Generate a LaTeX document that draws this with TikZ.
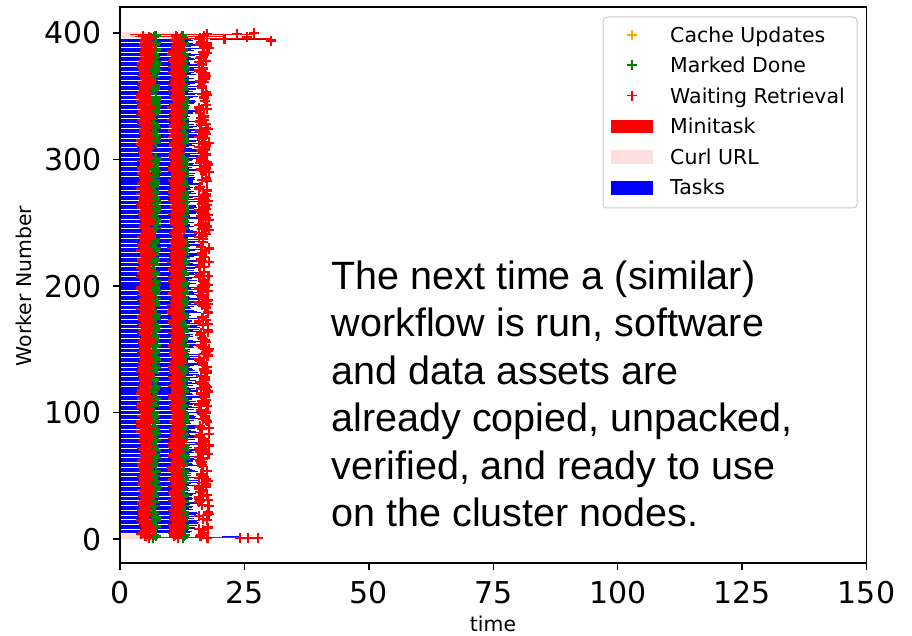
\documentclass[tikz,border=0pt]{standalone}
\usepackage{fontspec}
\setmainfont{DejaVu Sans}
\newfontfamily\annotfont{Liberation Sans}
\definecolor{mplred}{RGB}{255,0,0}
\definecolor{mplgreen}{RGB}{0,128,0}
\definecolor{mplorange}{RGB}{255,165,0}
\definecolor{mplblue}{RGB}{0,0,255}
\definecolor{curlpink}{RGB}{255,222,222}
\definecolor{legframe}{RGB}{204,204,204}
\begin{document}
\begin{tikzpicture}[x=1pt,y=-1pt,
  ticklab/.style={font=\fontsize{30}{36}\selectfont, inner sep=0pt},
  legtext/.style={font=\fontsize{20.5}{24}\selectfont, anchor=base west, inner sep=0pt},
  anntext/.style={font=\annotfont\fontsize{39.5}{47.5}\selectfont, anchor=base west, inner sep=0pt},
  pmark/.style={line width=2.3pt, line cap=butt},
  lmark/.style={line width=1.6pt},
  tickmark/.style={line width=1.4pt},
]
\useasboundingbox[fill=white] (0,0) rectangle (912,636);

% ---------------- data ----------------
\begin{scope}[shift={(120,539)}, x=4.973pt, y=1.265pt]
\pgfmathsetseed{42}
% tasks (blue)
\foreach \w in {5,...,395}{
  \pgfmathsetmacro\e{13.4+3.0*rnd}
  \fill[mplblue] (0,\w-0.4) rectangle (\e,\w+0.4);
}
% curl url bands
\fill[curlpink] (0,396) rectangle (12.7,401);
\fill[curlpink] (0,0) rectangle (8,4.2);
% special top rows
\draw[mplred, line width=1.2pt] (2,399) -- (27,399);
\draw[mplred, line width=1.2pt] (3,397) -- (21,397);
\draw[mplblue, line width=1pt] (18,394.5) -- (29.5,394.5);
\draw[mplred, line width=1pt] (12,395.8) -- (30.4,395.8);
% special bottom rows
\draw[mplred, line width=1.4pt] (4,1) -- (27.8,1);
\draw[mplblue, line width=1pt] (20.6,1.8) -- (24,1.8);
% minitask bars (red)
\foreach \w in {1,...,398}{
  \pgfmathsetmacro\aa{3.7+0.7*rnd}
  \pgfmathsetmacro\bb{6.0+0.7*rnd}
  \pgfmathsetmacro\cc{10.1+0.6*rnd}
  \pgfmathsetmacro\dd{12.0+0.7*rnd}
  \fill[mplred] (\aa,\w-0.5) rectangle (\bb,\w+0.5) (\cc,\w-0.5) rectangle (\dd,\w+0.5);
}
% marked done (green)
\foreach \w in {1,...,398}{
  \pgfmathsetmacro\ga{6.6+0.7*rnd}
  \pgfmathsetmacro\gb{12.5+0.5*rnd}
  \pgfmathsetmacro\pg{rnd}
  \ifdim\pg pt<0.5pt
  \draw[mplgreen, pmark] (\ga,\w) +(-5pt,0) -- +(5pt,0) +(0,-5pt) -- +(0,5pt)
                         (\gb,\w) +(-5pt,0) -- +(5pt,0) +(0,-5pt) -- +(0,5pt);
  \fi
}
% waiting retrieval (red +)
\foreach \w in {1,...,398}{
  \pgfmathsetmacro\ra{4.2+2.0*rnd}
  \pgfmathsetmacro\rb{10.5+1.9*rnd}
  \pgfmathsetmacro\rc{15.8+2.1*rnd}
  \pgfmathsetmacro\pc{rnd}
  \draw[mplred, pmark] (\ra,\w) +(-5pt,0) -- +(5pt,0) +(0,-5pt) -- +(0,5pt)
                       (\rb,\w) +(-5pt,0) -- +(5pt,0) +(0,-5pt) -- +(0,5pt);
  \ifdim\pc pt<0.65pt
    \draw[mplred, pmark] (\rc,\w) +(-5pt,0) -- +(5pt,0) +(0,-5pt) -- +(0,5pt);
  \fi
}
% outlier markers top
\foreach \px/\py in {17.5/399, 21/395.5, 23.5/399, 25.5/396.5, 27/400, 30.4/394}{
  \draw[mplred, pmark] (\px,\py) +(-5pt,0) -- +(5pt,0) +(0,-5pt) -- +(0,5pt);
}
% outlier markers bottom
\foreach \px in {24.1, 25.7, 27.8}{
  \draw[mplred, pmark] (\px,1) +(-5pt,0) -- +(5pt,0) +(0,-5pt) -- +(0,5pt);
}
\end{scope}

% ---------------- axes ----------------
\draw[line width=1.8pt] (120,7.3) rectangle (866.5,563.3);
\foreach \k/\lab in {0/0,1/25,2/50,3/75,4/100,5/125,6/150}{
  \coordinate (xt\k) at ({120+124.42*\k},563.3);
  \draw[tickmark] (xt\k) -- ++(0,7);
  \node[ticklab, anchor=base] (xl\k) at ({120+124.42*\k},603) {\lab};
}
\foreach \k/\lab in {0/0,1/100,2/200,3/300,4/400}{
  \coordinate (yt\k) at (120,{539-126.5*\k});
  \draw[tickmark] (yt\k) -- ++(-7,0);
  \node[ticklab, anchor=base east] (yl\k) at (102,{539-126.5*\k+11}) {\lab};
}
\node[font=\fontsize{20.4}{24}\selectfont, rotate=90, inner sep=0pt] (ylab) at (24,286) {Worker Number};
\node[font=\fontsize{20.4}{24}\selectfont, anchor=base, inner sep=0pt] (xlab) at (493,631.5) {time};

% ---------------- legend ----------------
\draw[legframe, fill=white, line width=1pt, rounded corners=4pt] (603,17) rectangle (857,208);
\draw[mplorange, lmark] (627,35) -- (637,35) (632,30) -- (632,40);
\draw[mplgreen, lmark] (627,65.3) -- (637,65.3) (632,60.3) -- (632,70.3);
\draw[mplred, lmark] (627,95.6) -- (637,95.6) (632,90.6) -- (632,100.6);
\fill[mplred] (611,119.8) rectangle (653,133.4);
\fill[curlpink] (611,150.5) rectangle (653,164.1);
\fill[mplblue] (611,181.2) rectangle (653,194.8);
\node[legtext] (lg1) at (670,42.7) {Cache Updates};
\node[legtext] (lg2) at (670,73) {Marked Done};
\node[legtext] (lg3) at (670,103.3) {Waiting Retrieval};
\node[legtext] (lg4) at (670,133.6) {Minitask};
\node[legtext] (lg5) at (670,164.2) {Curl URL};
\node[legtext] (lg6) at (670,194.9) {Tasks};

% ---------------- annotation ----------------
\node[anntext] (ann1) at (331.5,289.3) {The next time a (similar)};
\node[anntext] (ann2) at (331.5,336.7) {workflow is run, software};
\node[anntext] (ann3) at (331.5,384.1) {and data assets are};
\node[anntext] (ann4) at (331.5,431.6) {already copied, unpacked,};
\node[anntext] (ann5) at (331.5,479.1) {verified, and ready to use};
\node[anntext] (ann6) at (331.5,526.6) {on the cluster nodes.};
\end{tikzpicture}
\end{document}
